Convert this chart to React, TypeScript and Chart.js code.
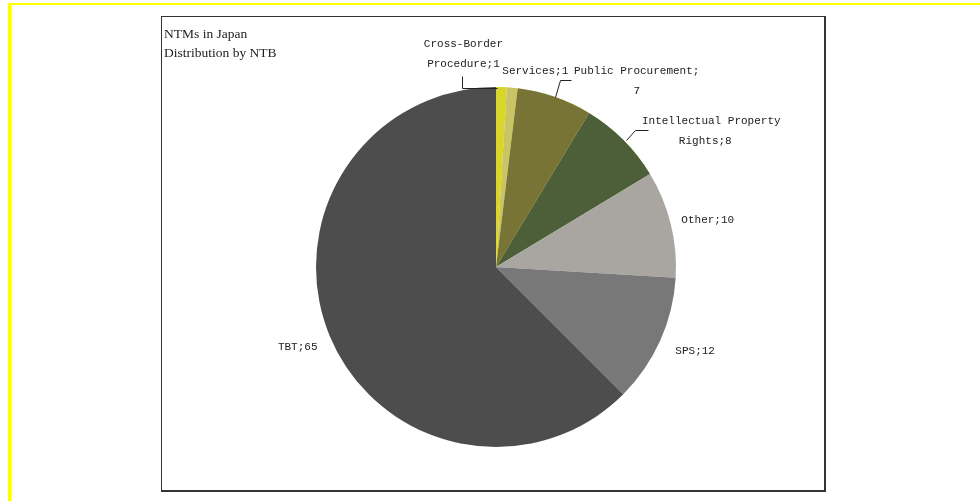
import React, { useEffect, useRef } from "react";
import { Chart, registerables } from "chart.js";

Chart.register(...registerables);

const titleLines = ["NTMs in Japan", "Distribution by NTB"];
const categories = [
  "Cross-Border Procedure",
  "Services",
  "Public Procurement",
  "Intellectual Property Rights",
  "Other",
  "SPS",
  "TBT",
];
const values = [1, 1, 7, 8, 10, 12, 65];
const colors = ["#dad52c", "#c9c466", "#787435", "#4c5f39", "#a9a6a2", "#787878", "#4d4d4d"];
// character index at which the label wraps (-1: no wrap)
const labelBreaks = [12, -1, 19, 21, -1, -1, -1];
// label line offsets relative to the slice's outer edge midpoint
const labelOffsets: number[][][] = [
  [[-38, -43], [-38, -23]],
  [[23, -17]],
  [[82, -26], [82, -6]],
  [[88, -19], [82, 1]],
  [[37, -4]],
  [[35, 10]],
  [[-32, 11]],
];
const leaders: (number[][] | null)[] = [
  [[-39, -11], [-39, 1], [-4, 1]],
  null,
  [[0, 0], [5, -17], [16, -17]],
  [[3, 0], [12, -10], [25, -10]],
  null,
  null,
  null,
];

const labelPlugin = {
  id: "pieLabels",
  afterDraw(chart: any) {
    const ctx = chart.ctx;
    const meta = chart.getDatasetMeta(0);
    ctx.save();
    // title
    ctx.fillStyle = "#222";
    ctx.font = "13.5px 'Liberation Serif'";
    ctx.textAlign = "left";
    ctx.textBaseline = "alphabetic";
    titleLines.forEach((t, i) => ctx.fillText(t, 2, 21 + i * 19));

    ctx.font = "11px 'Liberation Mono'";
    ctx.textAlign = "center";
    ctx.textBaseline = "middle";
    ctx.strokeStyle = "#222";
    ctx.lineWidth = 1;
    meta.data.forEach((arc: any, i: number) => {
      const p = arc.getProps(["x", "y", "startAngle", "endAngle", "outerRadius"], true);
      const mid = (p.startAngle + p.endAngle) / 2;
      const ex = p.x + p.outerRadius * Math.cos(mid);
      const ey = p.y + p.outerRadius * Math.sin(mid);
      const full = `${categories[i]};${values[i]}`;
      const b = labelBreaks[i];
      const lines = b >= 0 ? [full.slice(0, b).trim(), full.slice(b).trim()] : [full];
      lines.forEach((ln, j) => {
        const off = labelOffsets[i][j];
        ctx.fillText(ln, ex + off[0], ey + off[1]);
      });
      const ld = leaders[i];
      if (ld) {
        ctx.beginPath();
        ld.forEach((pt, k) => {
          const px = Math.round(ex + pt[0]) + 0.5;
          const py = Math.round(ey + pt[1]) + 0.5;
          if (k === 0) ctx.moveTo(px, py);
          else ctx.lineTo(px, py);
        });
        ctx.stroke();
      }
    });
    ctx.restore();
  },
};

export default function App() {
  const ref = useRef<HTMLCanvasElement>(null);
  useEffect(() => {
    if (!ref.current) return;
    const chart = new Chart(ref.current, {
      type: "pie",
      data: {
        labels: categories,
        datasets: [
          {
            data: values,
            backgroundColor: colors,
            borderWidth: 0,
          },
        ],
      },
      options: {
        animation: false,
        responsive: false,
        devicePixelRatio: 1,
        layout: { padding: { left: 154, right: 148, top: 70, bottom: 42 } },
        plugins: { legend: { display: false }, tooltip: { enabled: false }, title: { display: false } },
      },
      plugins: [labelPlugin],
    });
    return () => chart.destroy();
  }, []);

  return (
    <div style={{ position: "absolute", left: 0, top: 0, width: 980, height: 502, background: "#fff", overflow: "hidden" }}>
      <div
        style={{
          position: "absolute",
          left: 8,
          top: 3,
          width: 980,
          height: 498,
          borderTop: "2px solid #ffff00",
          borderLeft: "3px solid #ffff00",
          boxSizing: "border-box",
        }}
      />
      <div
        style={{
          position: "absolute",
          left: 161,
          top: 16,
          width: 665,
          height: 476,
          boxSizing: "border-box",
          borderTop: "1px solid #333",
          borderLeft: "1px solid #333",
          borderRight: "2px solid #333",
          borderBottom: "2px solid #333",
          background: "#fff",
        }}
      />
      <canvas
        ref={ref}
        width={662}
        height={472}
        style={{ position: "absolute", left: 162, top: 17, width: 662, height: 472 }}
      />
    </div>
  );
}
